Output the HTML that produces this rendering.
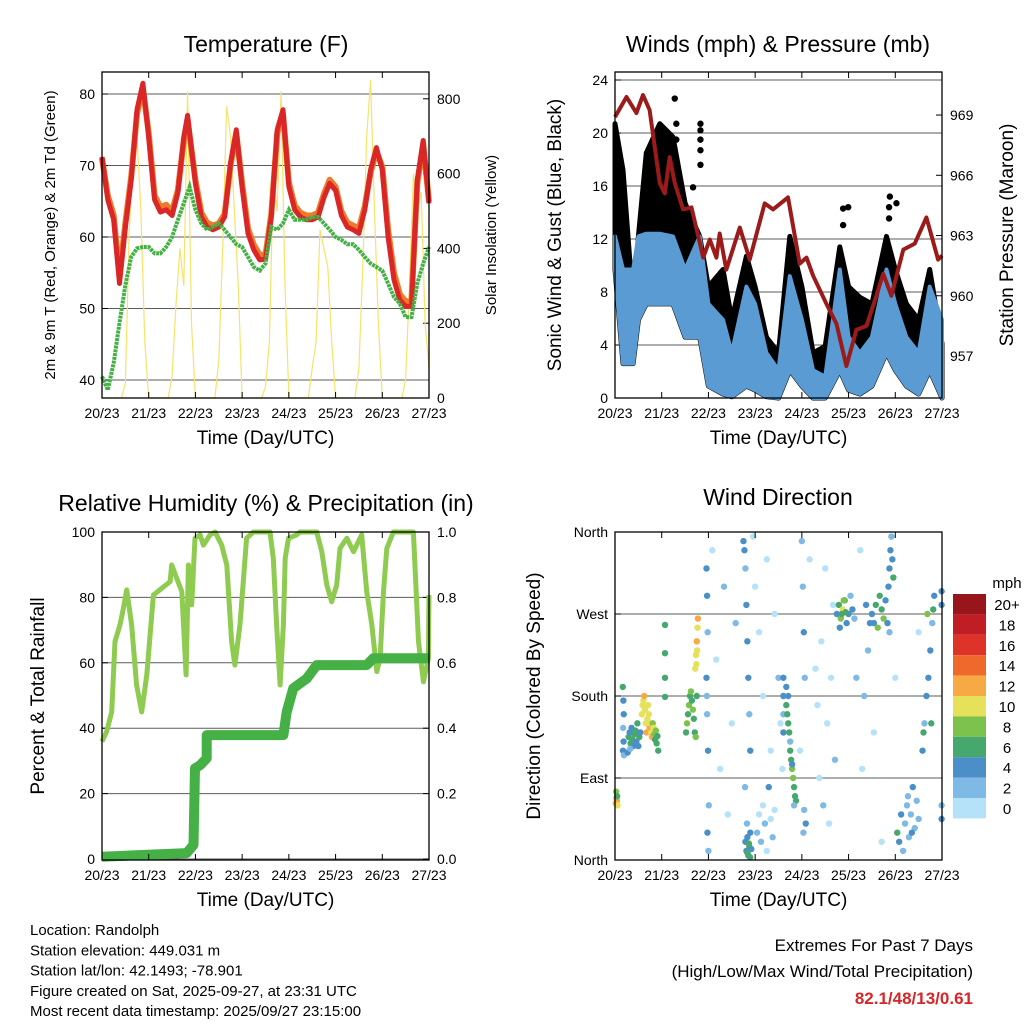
<!DOCTYPE html>
<html><head><meta charset="utf-8"><style>
html,body{margin:0;padding:0;background:#fff}
svg{display:block;font-family:"Liberation Sans",Arial,sans-serif}
</style></head><body>
<svg id="c" width="1024" height="1024" viewBox="0 0 1024 1024" xmlns="http://www.w3.org/2000/svg">
<g id="g"></g>
</svg>
<script>
// ---------- DATA ----------
const dayLabels=["20/23","21/23","22/23","23/23","24/23","25/23","26/23","27/23"];
const tempHours=[0,3,6,9,12,15,18,21,24,27,30,33,36,39,42,44,48,51,54,57,60,63,66,69,72,75,78,81,84,87,90,93,96,99,102,105,108,111,114,117,120,123,126,129,132,135,138,141,144,147,150,153,156,159,162,165,168];
const temp2m=[71.2,65.2,62.4,53.5,61.4,68,77.8,81.5,74,65.2,63.5,63.8,63,66.2,74,77,67.5,62.8,61.4,61,61.4,62.8,70.3,75,67,60.5,58.2,56.8,56.9,62.8,75,77.8,67,63.8,62.8,62.4,62.4,62.8,65.5,67.5,66.5,63,61.4,61,60.5,63.8,69.4,72.5,69.4,60,54,51.2,50.3,50.3,68,73.5,64.7];
const temp9m=[71.0,65.8,63.0,54.5,62.0,68.4,77.2,80.8,74.5,65.8,64.2,64.5,63.6,66.6,73.5,76.4,68.0,63.4,62.0,61.6,61.9,63.2,70.0,74.5,67.5,61.2,58.9,57.5,57.5,63.2,74.5,77.2,67.6,64.4,63.4,63.0,63.0,63.4,66.0,68.0,67.0,63.6,62.0,61.6,61.2,64.3,69.0,72.0,69.8,61.0,55.0,52.0,51.0,51.0,67.5,73.0,65.0];
const dewHours=[0,3,6,9,12,15,18,21,24,27,30,33,36,39,42,45,48,51,54,57,60,63,66,69,72,75,78,81,84,87,90,93,96,99,102,105,108,111,114,117,120,123,126,129,132,135,138,141,144,147,150,153,156,159,162,165,168];
const dew2m=[40.5,38.6,42.4,48,53.3,57.2,58.4,58.6,58.6,57.7,57.7,58.6,60,62.4,64.7,67,63.8,61.9,61,61.4,61.9,61,60,59,58.6,57.2,55.8,55.3,56.3,61.4,61,61.9,63.8,62.4,62.4,62.4,62.8,62.8,61.9,61,60,59.6,59,59,58.2,57.2,56.3,55.8,55.3,53.5,51.6,50.7,48.8,48.8,53.5,56.3,58.6];
const solar2h=[0,0,0,0,0,0,40,450,650,700,500,150,
0,0,0,0,0,0,60,250,400,300,820,200,
0,0,0,0,0,0,100,400,780,700,500,300,
0,0,0,0,0,0,30,150,600,500,820,300,
0,0,0,0,0,0,80,150,450,400,350,150,
0,0,0,0,0,0,80,350,700,850,500,200,
0,0,0,0,0,0,50,300,600,500,550,200,80];

const windHours=[0,4.1,9.3,12,16.1,23,29.8,36,43.5,48,55.5,60,67.5,72,77.8,84,89.8,96,101.8,108,115.5,120,125.8,132,139.5,144,149.7,156,161.7,168];
const windHi=[12.2,9.7,9.7,12.2,12.4,12.4,12.2,9.7,12.2,7.1,5.9,3.4,8.4,7.1,3.4,2.1,9.2,5.9,2.1,1.6,9.7,4.6,3.4,4.6,9.7,7.1,4.6,3.4,8.4,5.9];
const windLo=[9.7,2.6,2.6,5.9,7.1,7.1,7.1,4.6,4.6,0.9,0.3,0.1,0.9,0.6,0.1,0,2.1,0.9,0,0,2.1,0.6,0.3,0.9,3.4,2.1,0.9,0.3,2.1,0];
const gustHi=[20.7,17.2,7.1,12.2,18.5,20.7,19.7,14.7,12.2,8.4,9.7,5.9,10.7,8.4,4.6,3.4,12.2,8.4,3.4,3.9,11.4,8.4,7.6,7.1,12.2,9.7,7.1,5.9,9.7,4.1];
const gustOutHours=[30.7,31.5,31.5,43.9,43.9,43.9,43.9,43.9,40.1,117.2,119.8,117.2,141.2,144.6,140.8,140.8];
const gustOutVals=[22.6,20.7,19.5,20.7,20.2,19.5,18.7,17.6,15.9,14.3,14.4,13.05,15.2,14.7,14.4,13.55];
const presHours=[0,5.9,11,14.4,17.8,23,25.6,28.1,30.7,35,39.3,45.3,48.7,52.1,53.8,57.2,64.1,69.2,76.9,81.2,88.9,94.9,98.4,101.8,108.6,113.8,118.9,124,129.2,134.3,137.8,142,148.1,154,160,166,168];
const pres=[968.9,969.9,969.1,970.0,969.25,965.6,965.1,966.9,965.6,964.3,964.4,961.9,962.8,961.9,963.1,961.3,963.4,961.8,964.6,964.3,964.9,961.6,961.9,961.0,959.6,958.6,956.5,958.3,958.5,960.0,961.1,960.0,962.3,962.6,963.9,961.8,962.0];

const rhHours=[0,2.4,5,6.7,9.3,11,12.7,15.2,17.8,20.4,23,26.4,30.7,35,35.8,38.4,41,43.2,44.4,46.1,47.8,50.4,52.1,55.5,58.1,61.5,64.1,66.6,68.3,70.9,74.3,77.8,86.3,88,89.7,91.5,93.2,94.1,95.8,100,101.7,110.3,112.9,115.5,118,120.6,122.3,125.8,129.2,133.4,136,138.6,141.2,142.9,144.6,146.3,149.7,160,162.6,165.1,167.7,168];
const rhVals=[35.9,39,45,66.5,71.7,76.7,82.3,71.7,53.2,45,56.3,80.7,82.8,84.8,89.9,85.8,81.8,56.3,89.9,77.7,98.1,99.1,96,99.1,100,96,89.9,66.5,59.3,71.7,98.1,100,100,92,71.7,53.2,71.7,92,98.1,99.1,100,100,94,83.8,78.7,83.8,95,98.1,94,99.1,81.8,71.7,57.3,61.4,81.8,95,100,100,66.5,54.2,61.4,80.7];
const rainHours=[0,43.5,47,47.8,50.4,53.8,53.8,93.2,94.9,98.3,105.2,110.3,136,139.4,168];
const rainVals=[0.007,0.018,0.043,0.277,0.287,0.308,0.379,0.379,0.45,0.522,0.552,0.593,0.593,0.614,0.614];

// wind direction points: hour, direction (deg), speed (mph) — rows of 10
const dirHours=[
0.4,0.7,1.0,1.3,0.6,1.1,4.0,4.3,4.5,4.2,
4.4,4.1,4.6,7,7.5,8,8.5,9,9.5,10,
10.5,11,11.5,12,12.5,13,6.5,7.8,13.8,14.2,
14.6,15,15.4,15.8,16.2,16.6,17,17.4,17.8,18.2,
18.6,19,19.4,19.8,20.2,20.6,21,21.4,21.8,22.2,
25.7,25.7,25.7,25.7,36.5,37,37.5,38,38.5,39,
39.5,40,40.5,41,41.5,42,41.2,41.6,42,42.4,
42.6,42.2,41.8,47,47.3,47.6,47,47.3,47.8,48.2,
47.5,48,47.2,50,52,54,56,58,60,62,
66,66.5,67,67.5,68,68.5,69,69.5,66.8,67.8,
67,67.5,68,68.5,69,69.5,70,68,68.8,69.4,
73,74,75,76,77,78,79,80,81,82,
71,72,74,76,78,80,82,84,85,86,
86.5,86.5,86.5,86.5,88,89,90,91,92,93,
88.5,89.5,90.5,91.5,92.5,89,90,91,92,88,
96,96.5,97,97.5,98,96.8,97.2,95,100,103,
104,105,106,107,108,109,110,111,112,113,
114,115,116,117,118,119,120,121,122,123,
115.5,116.5,117.5,118.5,124,126,128,130,129,131,
132,133,134,135,136,137,138,139,140,141,
140.5,141,141.5,142,142.5,143,145,146,147,148,
149,150,151,152,153,154,155,156,150.5,152.5,
158,159,160,161,162,163,164,158.5,160.5,162.5,
163.5,167.8,167.8,167.8,167.8,127,133,137,144,156];
const dirVals=[
62,68,65,60,75,70,190,175,160,145,
130,120,115,135,140,128,145,132,125,138,
142,130,150,125,135,140,118,122,160,170,
175,180,165,150,140,155,170,160,145,150,
140,135,150,145,138,132,142,128,136,120,
258,227,200,179,140,150,160,170,180,185,
175,165,155,140,135,180,210,225,240,255,
265,230,215,320,290,250,200,160,120,60,
30,10,180,340,220,100,300,50,150,260,
350,340,320,280,240,200,160,120,80,40,
20,10,25,5,15,30,12,8,18,3,
30,50,20,60,40,10,80,45,25,55,
355,300,250,180,330,120,270,200,150,100,
200,180,160,140,170,150,120,100,80,65,
160,140,110,90,70,180,130,105,60,190,
350,300,250,200,40,30,55,120,330,210,
170,90,240,60,320,150,40,200,280,110,
270,280,265,275,285,260,270,290,275,265,
255,270,285,272,200,340,180,230,280,260,
270,260,280,255,290,275,265,285,260,250,
300,320,340,355,330,310,30,20,50,10,
40,60,25,50,80,35,65,45,70,30,
120,150,180,200,230,260,290,140,270,150,
275,45,60,280,295,100,140,20,200,250];
const dirSpeeds=[
12,13,12,11,8,7,6,4,4,3,
4,4,3,6,5,7,4,6,5,7,
6,5,7,4,6,5,4,3,10,11,
10,12,11,10,12,11,10,11,12,10,
11,12,9,10,8,7,8,6,7,6,
6,6,6,6,7,8,7,8,6,8,
7,8,7,6,8,7,10,10,12,11,
12,11,10,4,4,3,4,3,4,2,
4,3,2,1,0,1,2,0,1,2,
4,4,3,4,5,4,3,4,2,3,
4,4,5,4,6,4,5,7,6,6,
2,1,2,0,2,1,4,0,2,1,
0,1,0,1,0,1,0,2,1,0,
4,4,3,4,7,6,7,8,6,7,
6,7,6,8,7,4,3,4,2,5,
3,2,4,3,4,3,2,1,0,1,
0,1,0,2,0,1,0,1,0,2,
4,6,8,10,7,5,4,3,4,3,
5,7,9,6,2,1,3,2,4,5,
5,4,7,8,6,7,8,5,4,3,
4,5,4,3,4,6,6,4,4,3,
3,2,3,2,4,2,2,3,2,4,
4,3,4,5,4,3,4,7,8,6,
7,4,3,4,5,0,1,0,1,0];

const speedBins=["0","2","4","6","8","10","12","14","16","18","20+"];
const speedColors=["#b5e2f8","#7fb9e5","#4b8fc8","#47a86e","#7cc24c","#e6e15a","#f7a945","#ef682c","#dd3328","#c11d24","#98161b"];

// ---------- HELPERS ----------
const NS="http://www.w3.org/2000/svg";
const G=document.getElementById('g');
function mk(tag,attrs,parent){const e=document.createElementNS(NS,tag);for(const k in attrs)e.setAttribute(k,attrs[k]);(parent||G).appendChild(e);return e;}
function txt(s,x,y,size,anchor,extra,parent){const e=mk('text',Object.assign({x:x,y:y,'font-size':size,'text-anchor':anchor||'middle',fill:'#000'},extra||{}),parent);e.textContent=s;return e;}
function linePath(xs,ys){return xs.map((x,i)=>(i?'L':'M')+x.toFixed(1)+' '+ys[i].toFixed(1)).join(' ');}

function panel(name,L,T,R,B){
  const p=mk('g',{});
  
  
  return {g:p,L:L,T:T,R:R,B:B,x:h=>L+h/168*(R-L)};
}
function frame(P){mk('rect',{x:P.L,y:P.T,width:P.R-P.L,height:P.B-P.T,fill:'none',stroke:'#000','stroke-width':1.3},P.g);}
function xAxis(P,nm){
  const ax=mk('g',{},P.g);
  
  
  dayLabels.forEach((d,i)=>{const x=P.x(i*24);
    mk('line',{x1:x,y1:P.B,x2:x,y2:P.B-6,stroke:'#000'},ax);
    mk('line',{x1:x,y1:P.T,x2:x,y2:P.T+6,stroke:'#000'},ax);
    const t=txt(d,x,P.B+20,14,'middle',{},ax);
    
    
  });
  const t=txt('Time (Day/UTC)',(P.L+P.R)/2,P.B+46,19,'middle',{},ax);
  
  
}
function yTicks(P,vals,labels,yf,side,grid,nm){
  const ax=mk('g',{},P.g);
  
  
  vals.forEach((v,i)=>{const y=yf(v);
    if(grid) mk('line',{x1:P.L,y1:y,x2:P.R,y2:y,stroke:'#333','stroke-width':1,opacity:0.8},ax);
    if(side==='L'){mk('line',{x1:P.L,y1:y,x2:P.L+6,y2:y,stroke:'#000'},ax);
      const t=txt(labels[i],P.L-7,y+5,14,'end',{},ax);}
    else{mk('line',{x1:P.R,y1:y,x2:P.R-6,y2:y,stroke:'#000'},ax);
      const t=txt(labels[i],P.R+8,y+5,14,'start',{},ax);}
  });
}
function rotLabel(s,x,y,size,nm,parent){const t=txt(s,x,y,size,'middle',{transform:'rotate(-90 '+x+' '+y+')'},parent);return t;}
function title(s,x,y,nm,parent){const t=txt(s,x,y,23,'middle',{},parent);}

// ---------- TEMPERATURE ----------
(function(){
const P=panel('temperature-panel',102,72,429,398);
const yT=v=>380-(v-40)*7.15, yS=v=>398-v*0.374;
yTicks(P,[40,50,60,70,80],['40','50','60','70','80'],yT,'L',true,'temp-y-axis');
yTicks(P,[0,200,400,600,800],['0','200','400','600','800'],yS,'R',false,'solar-y-axis');
const sx=solar2h.map((v,i)=>P.x(i*2)), sy=solar2h.map(v=>yS(v));
const s=mk('path',{d:linePath(sx,sy),fill:'none',stroke:'#f7e26b','stroke-width':1.2},P.g);

const o=mk('path',{d:linePath(tempHours.map(P.x),temp9m.map(yT)),fill:'none',stroke:'#f07a2a','stroke-width':6,'stroke-linejoin':'round'},P.g);

const r=mk('path',{d:linePath(tempHours.map(P.x),temp2m.map(yT)),fill:'none',stroke:'#d92626','stroke-width':5,'stroke-linejoin':'round'},P.g);

const d=mk('path',{d:linePath(dewHours.map(P.x),dew2m.map(yT)),fill:'none',stroke:'#45b045','stroke-width':4,'stroke-dasharray':'3 0.8'},P.g);

frame(P);xAxis(P,'temp-x-axis');
title('Temperature (F)',266,52,'temperature-title',P.g);
rotLabel('2m & 9m T (Red, Orange) & 2m Td (Green)',55,235,15,'temp-y-axis-title',P.g);
rotLabel('Solar Insolation (Yellow)',496,235,15,'solar-y-axis-title',P.g);
})();

// ---------- WINDS ----------
(function(){
const P=panel('winds-panel',615,72,942,398);
const yW=v=>398-v*13.25, yP=v=>356-(v-957)*20.08;
yTicks(P,[0,4,8,12,16,20,24],['0','4','8','12','16','20','24'],yW,'L',true,'wind-y-axis');
yTicks(P,[957,960,963,966,969],['957','960','963','966','969'],yP,'R',false,'pressure-y-axis');
const xs=windHours.map(P.x);
const gb=mk('path',{d:linePath(xs,gustHi.map(yW))+' '+linePath(xs.slice().reverse(),windLo.map(yW).reverse()).replace('M','L')+'Z',fill:'#000',stroke:'#000','stroke-width':5,'stroke-linejoin':'round'},P.g);

gustOutHours.forEach((h,i)=>{const c=mk('circle',{cx:P.x(h),cy:yW(gustOutVals[i]),r:3.2,fill:'#000'},P.g);
});
const wb=mk('path',{d:linePath(xs,windHi.map(yW))+' '+linePath(xs.slice().reverse(),windLo.map(yW).reverse()).replace('M','L')+'Z',fill:'#5a9bd3',stroke:'#5a9bd3','stroke-width':4,'stroke-linejoin':'round'},P.g);

const pl=mk('path',{d:linePath(presHours.map(P.x),pres.map(yP)),fill:'none',stroke:'#9b1b1b','stroke-width':4,'stroke-linejoin':'round'},P.g);

frame(P);xAxis(P,'wind-x-axis');
title('Winds (mph) & Pressure (mb)',778,52,'winds-title',P.g);
rotLabel('Sonic Wind & Gust (Blue, Black)',561,235,19,'wind-y-axis-title',P.g);
rotLabel('Station Pressure (Maroon)',1013,235,19,'pressure-y-axis-title',P.g);
})();

// ---------- RH ----------
(function(){
const P=panel('humidity-panel',102,532,429,860);
const yR=v=>859-v*3.27, yQ=v=>859-v*327;
yTicks(P,[0,20,40,60,80,100],['0','20','40','60','80','100'],yR,'L',true,'rh-y-axis');
yTicks(P,[0,0.2,0.4,0.6,0.8,1.0],['0.0','0.2','0.4','0.6','0.8','1.0'],yQ,'R',false,'precip-y-axis');
const rh=mk('path',{d:linePath(rhHours.map(P.x),rhVals.map(yR)),fill:'none',stroke:'#8ecb50','stroke-width':5,'stroke-linejoin':'round'},P.g);

const pr=mk('path',{d:linePath(rainHours.map(P.x),rainVals.map(yQ)),fill:'none',stroke:'#45b045','stroke-width':10,'stroke-linejoin':'round'},P.g);

frame(P);xAxis(P,'rh-x-axis');
title('Relative Humidity (%) & Precipitation (in)',266,511,'humidity-title',P.g);
rotLabel('Percent & Total Rainfall',44,696,19,'rh-y-axis-title',P.g);
})();

// ---------- WIND DIRECTION ----------
(function(){
const P=panel('wind-direction-panel',615,532,942,860);
const yD=v=>860-v/360*328;
yTicks(P,[0,90,180,270,360],['North','East','South','West','North'],yD,'L',true,'direction-y-axis');
const n=Math.min(dirHours.length,dirVals.length,dirSpeeds.length);
for(let i=0;i<n;i++){const s=dirSpeeds[i];const bi=Math.max(0,Math.min(10,Math.floor(s/2)));
 const c=mk('circle',{cx:P.x(dirHours[i]),cy:yD(dirVals[i]),r:3.2,fill:speedColors[bi]},P.g);
 }
frame(P);xAxis(P,'direction-x-axis');
title('Wind Direction',778,505,'wind-direction-title',P.g);
rotLabel('Direction (Colored By Speed)',540,696,19,'direction-y-axis-title',P.g);
const lg=mk('g',{});

txt('mph',1007,588,15,'middle',{},lg);
speedBins.forEach((b,i)=>{const k=10-i;const y=594+i*20.4;
 const r=mk('rect',{x:953,y:y,width:33,height:20.4,fill:speedColors[k]},lg);
 
 const t=txt(speedBins[k],1007,y+16,15,'middle',{},lg);
 });
})();

// ---------- FOOTER ----------
(function(){
const f=mk('g',{});

['Location: Randolph','Station elevation: 449.031 m','Station lat/lon: 42.1493; -78.901','Figure created on Sat, 2025-09-27, at 23:31 UTC','Most recent data timestamp: 2025/09/27 23:15:00'].forEach((s,i)=>txt(s,30,935+i*20.3,15,'start',{},f));
const e=mk('g',{});

txt('Extremes For Past 7 Days',973,951,17,'end',{},e);
txt('(High/Low/Max Wind/Total Precipitation)',973,977,17,'end',{},e);
txt('82.1/48/13/0.61',973,1004,17,'end',{fill:'#d62728','font-weight':'bold'},e);
})();
</script>
</body></html>
